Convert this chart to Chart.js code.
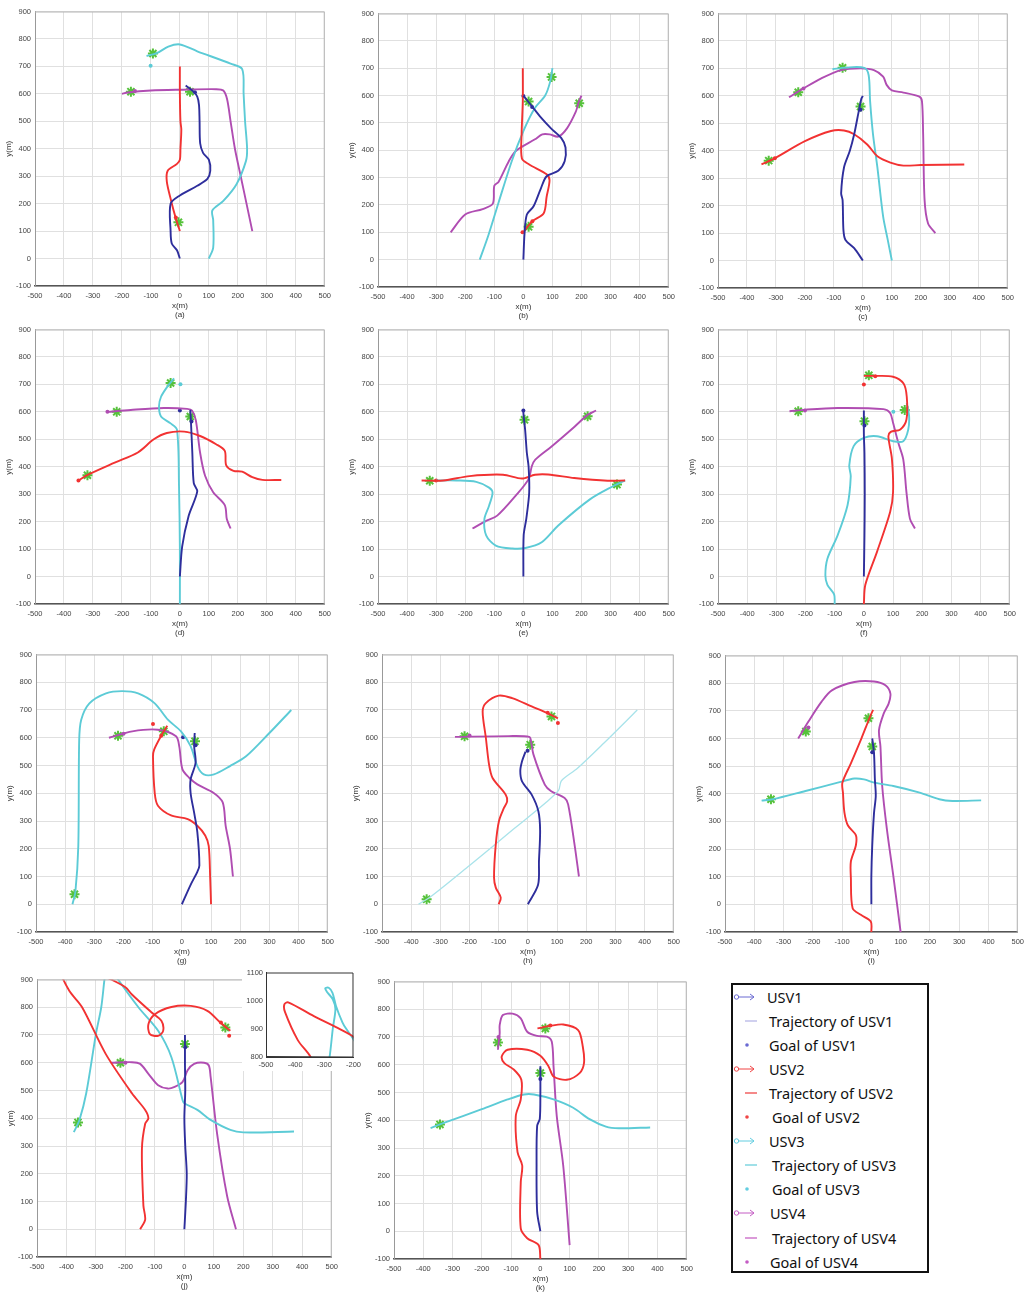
<!DOCTYPE html>
<html>
<head>
<meta charset="utf-8">
<script src="https://cdn.jsdelivr.net/npm/chart.js@4.4.0/dist/chart.umd.min.js"></script>
<style>
  body { margin: 0; background: #fff; width: 1035px; height: 1297px; position: relative; overflow: hidden; }
  canvas { position: absolute; }
  #legend { position: absolute; left: 731px; top: 983px; width: 198px; height: 290px; box-sizing: border-box;
            border: 2px solid #111; background: #fff; }
  .row { position: absolute; font-family: "Noto Sans", "Open Sans", sans-serif; font-size: 14.5px; color: #111; line-height: 18px; white-space: nowrap; }
  .ico { position: absolute; }
</style>
</head>
<body>
<div id="legend"></div>
<script>
// axis ranges (main panels and the zoomed inset of panel j)
const xRange = [-500, 500];
const yRange = [-100, 900];
const insetX = [-500, -200];
const insetY = [800, 1100];
const tickStep = 100;

const usvNames = ["USV1", "USV2", "USV3", "USV4"];

// trajectories, [x, y] in metres, one array per USV per panel
const usv1_a = [[0,0],[-10,30],[-28,55],[-32,100],[-32,200],[0,230],[60,265],[95,290],[105,320],[100,360],[80,385],[70,420],[68,500],[66,560],[60,590],[45,610],[20,630]];
const usv2_a = [[0,100],[-15,150],[-30,210],[-45,280],[-42,320],[-10,345],[0,360],[2,400],[5,470],[2,500],[0,600],[0,700]];
const usv3_a = [[100,0],[115,40],[115,140],[112,175],[150,210],[195,270],[228,355],[232,400],[225,500],[220,600],[215,690],[175,710],[60,755],[0,780],[-40,772],[-80,748],[-115,738]];
const usv4_a = [[250,100],[230,200],[210,300],[190,400],[175,500],[163,580],[150,612],[125,617],[0,615],[-100,612],[-180,605],[-200,600]];

const usv1_b = [[0,0],[4,95],[12,165],[35,195],[60,260],[80,305],[120,325],[142,360],[145,410],[130,445],[95,480],[60,520],[30,560],[0,600]];
const usv2_b = [[0,100],[30,140],[70,170],[80,230],[90,290],[80,312],[20,348],[-5,370],[-6,460],[-2,580],[-2,700]];
const usv3_b = [[-150,0],[-120,90],[-85,210],[-40,360],[0,470],[40,555],[75,600],[92,650],[100,700]];
const usv4_b = [[-250,100],[-200,165],[-140,185],[-105,205],[-100,270],[-85,285],[-50,360],[-25,398],[40,440],[65,458],[90,458],[120,450],[150,480],[180,540],[190,575],[200,600]];

const usv1_c = [[0,0],[-30,45],[-60,75],[-67,110],[-70,220],[-75,245],[-65,340],[-45,400],[-30,460],[-15,540],[-5,590],[0,600]];
const usv2_c = [[-350,350],[-305,372],[-200,435],[-110,472],[-65,474],[-30,460],[15,423],[50,380],[95,357],[140,346],[200,348],[350,350]];
const usv3_c = [[100,0],[85,80],[70,160],[50,340],[35,460],[25,580],[20,675],[5,702],[-60,703],[-105,697]];
const usv4_c = [[250,100],[225,135],[213,220],[208,460],[204,580],[195,597],[140,612],[100,620],[82,640],[70,670],[38,694],[-8,700],[-75,694],[-145,663],[-205,627],[-255,595]];

const usv1_d = [[0,0],[8,110],[30,220],[60,310],[48,340],[43,450],[38,570],[36,607]];
const usv2_d = [[-350,350],[-315,372],[-225,415],[-145,452],[-90,500],[-45,523],[15,528],[70,512],[125,482],[155,458],[160,405],[185,385],[215,382],[250,362],[285,352],[350,352]];
const usv3_d = [[0,-100],[0,100],[-3,330],[-10,535],[-32,558],[-65,583],[-72,620],[-65,655],[-43,692],[-20,722]];
const usv4_d = [[175,175],[162,210],[155,260],[115,307],[87,367],[70,450],[55,570],[42,605],[25,611],[-55,614],[-170,607],[-250,600]];

const usv1_e = [[0,0],[1,150],[10,210],[20,305],[18,400],[12,450],[6,535],[1,583],[0,600]];
const usv2_e = [[-350,350],[-275,350],[-185,366],[-70,371],[-5,357],[40,371],[85,372],[175,359],[290,349],[350,350]];
const usv3_e = [[350,350],[310,330],[230,282],[120,186],[63,125],[7,104],[-38,102],[-95,113],[-128,150],[-134,210],[-118,258],[-106,305],[-118,324],[-162,345],[-230,350],[-300,350]];
const usv4_e = [[-175,175],[-128,203],[-90,222],[-27,294],[18,355],[29,402],[41,426],[97,474],[176,546],[221,589],[250,605]];

const usv1_f = [[0,0],[2,150],[3,300],[2,450],[0,520],[0,605]];
const usv2_f = [[0,-100],[5,-30],[45,90],[90,235],[100,307],[96,430],[84,510],[92,527],[125,536],[146,572],[147,655],[136,703],[100,728],[35,731],[0,731]];
const usv3_f = [[-100,-100],[-102,-65],[-125,-30],[-132,5],[-125,65],[-90,150],[-56,260],[-45,365],[-50,405],[-35,475],[0,505],[45,511],[100,493],[135,493],[152,535],[155,585],[147,632]];
const usv4_f = [[175,175],[158,210],[146,307],[135,427],[118,487],[100,560],[90,596],[67,610],[-90,614],[-200,608],[-255,602]];

const usv1_g = [[0,0],[30,70],[53,117],[60,140],[53,260],[42,330],[30,400],[30,450],[47,510],[42,570],[44,617]];
const usv2_g = [[100,0],[97,95],[92,210],[80,248],[53,283],[20,307],[-37,320],[-82,355],[-93,400],[-99,533],[-95,557],[-72,605],[-50,643]];
const usv3_g = [[-375,0],[-365,45],[-355,210],[-352,590],[-345,665],[-317,724],[-260,760],[-205,768],[-150,760],[-93,724],[-48,665],[-3,623],[30,570],[53,498],[75,468],[110,468],[165,498],[220,533],[300,617],[375,700]];
const usv4_g = [[175,100],[165,200],[150,283],[140,367],[108,402],[53,432],[25,456],[2,486],[-9,569],[-20,605],[-82,629],[-170,623],[-250,600]];

const usv1_h = [[0,0],[35,70],[38,155],[42,265],[36,335],[13,395],[-20,443],[-26,480],[-20,515],[-8,550]];
const usv2_h = [[-100,0],[-93,24],[-110,60],[-116,96],[-110,216],[-99,300],[-82,347],[-71,371],[-76,395],[-121,455],[-133,503],[-144,600],[-155,695],[-144,725],[-100,752],[-54,743],[13,713],[65,690],[103,670]];
const usv3_h = [[-375,0],[-330,30],[-200,140],[-50,270],[60,365],[105,410],[115,445],[170,490],[260,580],[375,700]];
const usv4_h = [[175,100],[160,215],[138,360],[126,383],[80,407],[58,431],[19,540],[11,587],[5,603],[-65,606],[-250,603]];

const usv1_i = [[0,0],[0,105],[3,213],[9,330],[15,392],[12,452],[9,547],[3,600]];
const usv2_i = [[0,-100],[-2,-62],[-36,-38],[-64,-14],[-70,95],[-70,155],[-53,213],[-53,250],[-80,285],[-92,332],[-97,403],[-99,440],[-70,510],[-36,595],[-18,643],[-4,680],[6,703]];
const usv3_i = [[-375,375],[-337,380],[-225,410],[-115,440],[-58,455],[-25,452],[10,440],[75,428],[165,404],[232,380],[277,374],[375,376]];
const usv4_i = [[100,-100],[76,95],[53,272],[37,428],[31,571],[26,630],[42,690],[59,726],[65,762],[48,792],[9,806],[-58,804],[-135,774],[-170,733],[-215,661],[-250,600]];

const usv1_j = [[0,0],[5,100],[8,200],[3,300],[0,400],[3,500],[2,600],[2,700]];
const usv2_j = [[-150,0],[-133,35],[-139,85],[-144,290],[-133,380],[-122,400],[-133,430],[-178,490],[-267,632],[-347,800],[-391,860],[-435,960],[-437,987],[-424,994],[-336,945],[-260,906],[-200,872],[-178,846],[-111,781],[-78,751],[-72,715],[-89,697],[-117,703],[-122,739],[-100,775],[-44,801],[22,805],[78,787],[122,745],[156,715]];
const usv3_j = [[-375,350],[-356,394],[-333,490],[-300,704],[-282,800],[-271,901],[-262,970],[-271,1005],[-290,1030],[-297,1044],[-285,1046],[-272,1028],[-260,981],[-238,923],[-225,900],[-156,800],[-89,715],[-44,620],[-6,465],[0,454],[44,430],[89,394],[156,358],[200,349],[372,352]];
const usv4_j = [[175,0],[145,120],[111,345],[89,550],[83,590],[67,600],[33,596],[11,573],[-6,531],[-33,513],[-56,507],[-89,519],[-122,560],[-150,596],[-178,602],[-250,600]];

const usv1_k = [[0,0],[-11,70],[-13,240],[-11,380],[-2,405],[0,500],[0,595]];
const usv2_k = [[0,-100],[-6,-50],[-45,-25],[-67,10],[-67,177],[-62,237],[-78,285],[-84,415],[-67,475],[-65,546],[-90,582],[-123,606],[-132,630],[-112,654],[-45,654],[0,632],[28,594],[45,558],[90,546],[134,570],[149,606],[145,665],[129,725],[78,745],[34,740],[-10,731]];
const usv3_k = [[-375,372],[-325,392],[-200,440],[-112,475],[-56,493],[-22,493],[45,475],[112,445],[168,404],[224,377],[268,371],[375,374]];
const usv4_k = [[100,-50],[78,237],[56,415],[45,594],[39,683],[22,701],[-11,704],[-45,719],[-67,767],[-95,784],[-128,779],[-139,743],[-139,713],[-145,654]];

// green boat markers (current USV positions)
const boats_a = [[-93,747],[-169,608],[35,608],[-5,132]];
const boats_b = [[18,578],[18,120],[97,668],[192,572]];
const boats_c = [[-8,561],[-325,364],[-70,702],[-223,613]];
const boats_d = [[36,583],[-319,369],[-32,705],[-218,600]];
const boats_e = [[4,571],[-322,349],[322,335],[221,584]];
const boats_f = [[2,566],[17,733],[140,607],[-225,602]];
const boats_g = [[45,587],[-62,623],[-368,36],[-219,607]];
const boats_h = [[8,575],[81,677],[-347,18],[-217,605]];
const boats_i = [[3,571],[-10,673],[-343,380],[-224,625]];
const boats_j = [[2,668],[139,727],[-361,385],[-217,600]];
const boats_k = [[0,570],[17,731],[-343,385],[-145,680]];

// small goal / position dots: [x, y, usv number]
const dots_a = [[52,606,1],[-14,150,2],[-101,702,3],[-155,610,4]];
const dots_b = [[30,558,1],[0,598,1],[-3,100,2],[31,140,2]];
const dots_c = [[-8,549,1],[-304,373,2],[-205,627,4]];
const dots_d = [[0,605,1],[40,565,1],[-350,350,2],[2,701,3],[-250,600,4]];
const dots_e = [[0,605,1],[-300,350,2]];
const dots_f = [[2,550,1],[0,700,2],[39,730,2],[101,600,3],[-202,605,4]];
const dots_g = [[4,602,1],[47,573,1],[-99,650,2],[-71,607,2],[-200,614,4]];
const dots_h = [[-1,553,1],[103,653,2],[68,690,2],[-200,608,4]];
const dots_i = [[3,550,1],[-215,640,4]];
const dots_j = [[3,656,1],[152,697,2],[124,745,2],[-200,600,4]];
const dots_k = [[0,549,1],[34,741,2],[-143,700,4]];

const lineColors = ["#2e2e9c", "#f23232", "#5ccbd6", "#b04db2"];
const boatColor = "#56c23b";
const tickFont = { family: "'Liberation Sans', Arial, sans-serif", size: 7.5 };
const titleFont = { family: "'Liberation Sans', Arial, sans-serif", size: 8 };

const panels = [
  { id: "a", rect: [35, 9, 330, 286],    tracks: [usv1_a, usv2_a, usv3_a, usv4_a], boats: boats_a, dots: dots_a },
  { id: "b", rect: [378, 11, 674, 287],  tracks: [usv1_b, usv2_b, usv3_b, usv4_b], boats: boats_b, dots: dots_b },
  { id: "c", rect: [718, 11, 1013, 288], tracks: [usv1_c, usv2_c, usv3_c, usv4_c], boats: boats_c, dots: dots_c },
  { id: "d", rect: [35, 327, 330, 604],  tracks: [usv1_d, usv2_d, usv3_d, usv4_d], boats: boats_d, dots: dots_d },
  { id: "e", rect: [378, 327, 674, 604], tracks: [usv1_e, usv2_e, usv3_e, usv4_e], boats: boats_e, dots: dots_e },
  { id: "f", rect: [718, 327, 1015, 604], tracks: [usv1_f, usv2_f, usv3_f, usv4_f], boats: boats_f, dots: dots_f },
  { id: "g", rect: [36, 652, 333, 932],  tracks: [usv1_g, usv2_g, usv3_g, usv4_g], boats: boats_g, dots: dots_g },
  { id: "h", rect: [382, 652, 679, 932], tracks: [usv1_h, usv2_h, usv3_h, usv4_h], boats: boats_h, dots: dots_h, paleCyan: true },
  { id: "i", rect: [725, 653, 1023, 932], tracks: [usv1_i, usv2_i, usv3_i, usv4_i], boats: boats_i, dots: dots_i },
  { id: "j", rect: [37, 977, 337, 1257], tracks: [usv1_j, usv2_j, usv3_j, usv4_j], boats: boats_j, dots: dots_j },
  { id: "k", rect: [394, 979, 692, 1259], tracks: [usv1_k, usv2_k, usv3_k, usv4_k], boats: boats_k, dots: dots_k }
];

const pts = arr => arr.map(p => ({ x: p[0], y: p[1] }));

// MATLAB-like box round the plot area
const boxPlugin = {
  id: "box",
  afterDraw(chart, args, opts) {
    const { ctx, chartArea: a } = chart;
    ctx.save();
    ctx.strokeStyle = opts.color || "#aaa";
    ctx.lineWidth = 1;
    ctx.beginPath();
    ctx.moveTo(a.left, a.top + 0.5);
    ctx.lineTo(a.right - 0.5, a.top + 0.5);
    ctx.lineTo(a.right - 0.5, a.bottom);
    if (opts.full) { ctx.lineTo(a.left + 0.5, a.bottom - 0.5); ctx.lineTo(a.left + 0.5, a.top); }
    ctx.stroke();
    ctx.restore();
  }
};
const whiteBg = {
  id: "whiteBg",
  beforeDraw(chart) {
    const { ctx, width, height } = chart;
    ctx.save();
    ctx.fillStyle = "#fff";
    ctx.fillRect(0, 0, width, height);
    ctx.restore();
  }
};

function addCanvas(l, t, w, h, z) {
  const cv = document.createElement("canvas");
  cv.width = w; cv.height = h;
  cv.style.cssText = `left:${l}px;top:${t}px;width:${w}px;height:${h}px;z-index:${z}`;
  document.body.appendChild(cv);
  return cv;
}

function trackSets(tracks, pale, only) {
  return tracks.map((tr, i) => ({
    data: pts(tr),
    showLine: true,
    hidden: only ? !only.includes(i) : false,
    borderColor: (pale && i === 2) ? "#a9e3ea" : lineColors[i],
    borderWidth: (pale && i === 2) ? 1.3 : 1.9,
    pointRadius: 0,
    tension: 0.3
  }));
}

function buildPanel(p) {
  const [l, t, r, b] = p.rect;
  const w = r - l + 41, h = b - t + 40;
  const cv = addCanvas(l - 35, t - 6, w, h, 1);
  const datasets = trackSets(p.tracks, p.paleCyan);
  p.dots.forEach(d => datasets.push({
    data: [{ x: d[0], y: d[1] }], pointRadius: 2, pointBackgroundColor: lineColors[d[2] - 1],
    pointBorderWidth: 0, showLine: false
  }));
  datasets.push({
    data: pts(p.boats), showLine: false, pointStyle: "star", pointRadius: 5,
    pointBorderColor: boatColor, pointBackgroundColor: boatColor, pointBorderWidth: 2
  });
  new Chart(cv, {
    type: "scatter",
    data: { datasets },
    plugins: [boxPlugin],
    options: {
      responsive: false, animation: false, devicePixelRatio: 1,
      layout: { padding: { left: 0, top: 6, right: 6, bottom: 0 } },
      plugins: { legend: { display: false }, tooltip: { enabled: false }, box: { color: "#b5b5b5" } },
      scales: {
        x: {
          type: "linear", min: xRange[0], max: xRange[1],
          ticks: { stepSize: tickStep, padding: 5, font: tickFont, color: "#444", maxRotation: 0, autoSkip: false, callback: v => String(v) },
          grid: { color: "#e0e0e0", drawTicks: false },
          border: { color: "#555", width: 1.5 },
          title: { display: true, text: ["x(m)", "(" + p.id + ")"], font: titleFont, color: "#333", padding: 0 },
          afterFit: s => { s.height = 34; }
        },
        y: {
          type: "linear", min: yRange[0], max: yRange[1],
          ticks: { stepSize: tickStep, padding: 4, font: tickFont, color: "#444", autoSkip: false, callback: v => String(v) },
          grid: { color: "#e0e0e0", drawTicks: false },
          border: { color: "#999", width: 1 },
          title: { display: true, text: "y(m)", font: titleFont, color: "#333", padding: { top: 4, bottom: 0 } },
          afterFit: s => { s.width = 35; }
        }
      }
    }
  });
}

panels.forEach(buildPanel);

// zoomed inset of panel (j): red and cyan loops above the plot
(function buildInset() {
  const l = 266, t = 971, r = 358, b = 1057;
  const w = r - l + 24 + 6, h = b - t + 6 + 14;
  const cv = addCanvas(l - 24, t - 6, w, h, 2);
  new Chart(cv, {
    type: "scatter",
    data: { datasets: trackSets([usv1_j, usv2_j, usv3_j, usv4_j], false, [1, 2]) },
    plugins: [whiteBg, boxPlugin],
    options: {
      responsive: false, animation: false, devicePixelRatio: 1,
      layout: { padding: { left: 0, top: 6, right: 6, bottom: 0 } },
      plugins: { legend: { display: false }, tooltip: { enabled: false }, box: { color: "#333", full: true } },
      scales: {
        x: {
          type: "linear", min: insetX[0], max: insetX[1],
          ticks: { stepSize: tickStep, padding: 3, font: tickFont, color: "#444", maxRotation: 0, autoSkip: false, callback: v => String(v) },
          grid: { display: false, drawTicks: false },
          border: { color: "#333", width: 1 },
          afterFit: s => { s.height = 14; }
        },
        y: {
          type: "linear", min: insetY[0], max: insetY[1],
          ticks: { stepSize: tickStep, padding: 3, font: tickFont, color: "#444", autoSkip: false, callback: v => String(v) },
          grid: { display: false, drawTicks: false },
          border: { color: "#333", width: 1 },
          afterFit: s => { s.width = 24; }
        }
      }
    }
  });
})();

// legend box
(function buildLegend() {
  const iconColors = ["#6a6ad2", "#f04545", "#62cde0", "#c45cc4"];
  const trajColors = ["#b6b6e6", "#f04a4a", "#6ccfdb", "#c864c4"];
  const legend = document.getElementById("legend");
  const textLeft = [[34, 36, 36], [36, 36, 39], [36, 39, 39], [37, 39, 37]];
  usvNames.forEach((name, i) => {
    const labels = [name, "Trajectory of " + name, "Goal of " + name];
    labels.forEach((txt, k) => {
      const cy = 12 + (i * 3 + k) * 24.05;
      const row = document.createElement("div");
      row.className = "row";
      row.style.left = textLeft[i][k] + "px";
      row.style.top = (cy - 9) + "px";
      row.textContent = txt;
      legend.appendChild(row);
      const ico = document.createElementNS("http://www.w3.org/2000/svg", "svg");
      ico.setAttribute("class", "ico");
      ico.setAttribute("width", "30"); ico.setAttribute("height", "12");
      ico.style.left = "0px"; ico.style.top = (cy - 6) + "px";
      if (k === 0) {
        ico.innerHTML = `<circle cx="3.5" cy="6" r="2.2" fill="none" stroke="${iconColors[i]}" stroke-width="1"/>` +
          `<line x1="5.5" y1="6" x2="21" y2="6" stroke="${iconColors[i]}" stroke-width="1"/>` +
          `<polyline points="17,3 21,6 17,9" fill="none" stroke="${iconColors[i]}" stroke-width="1"/>`;
      } else if (k === 1) {
        ico.innerHTML = `<line x1="12" y1="6" x2="24" y2="6" stroke="${trajColors[i]}" stroke-width="1.3"/>`;
      } else {
        ico.innerHTML = `<circle cx="14" cy="6" r="1.8" fill="${iconColors[i]}"/>`;
      }
      legend.appendChild(ico);
    });
  });
})();
</script>
</body>
</html>
